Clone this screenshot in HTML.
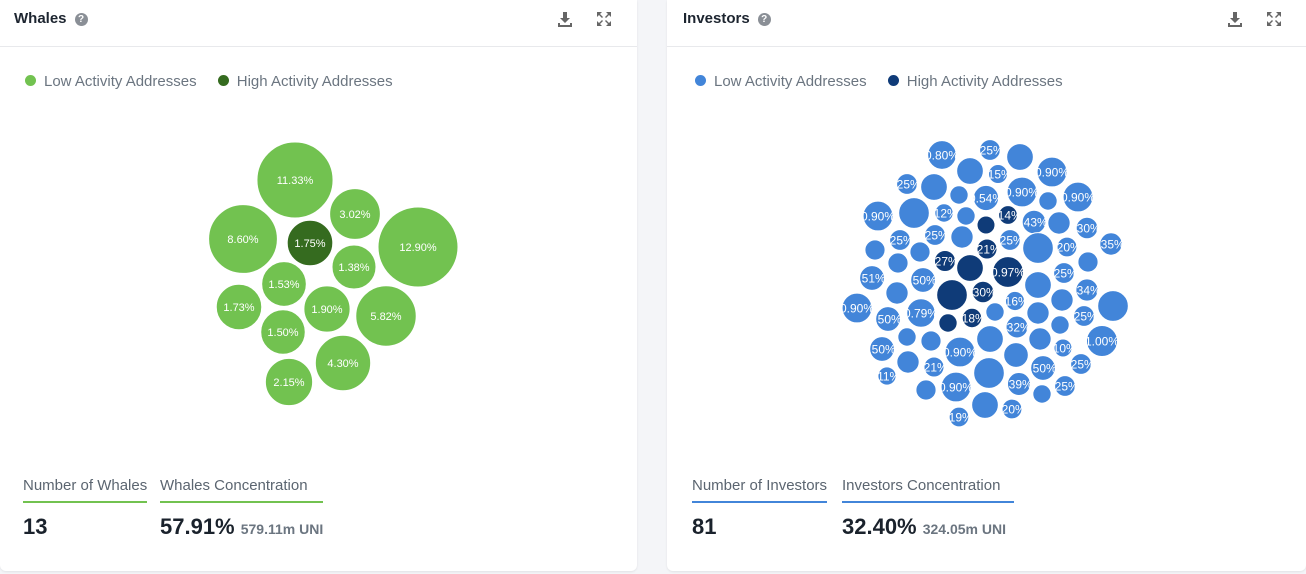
<!DOCTYPE html>
<html><head><meta charset="utf-8">
<style>
body{margin:0;width:1306px;height:574px;background:#f4f5f8;font-family:"Liberation Sans",sans-serif;overflow:hidden;position:relative}
.panel{position:absolute;top:0;height:571px;background:#fff;border-radius:0 0 6px 6px;box-shadow:0 1px 2px rgba(0,0,0,.08)}
.hdr{position:absolute;left:0;right:0;top:0;height:46px;border-bottom:1px solid #e8e9ec}
.title{position:absolute;left:14px;top:10px;font-size:15px;font-weight:bold;color:#1d2530}
.q{display:inline-block;width:13px;height:13px;border-radius:50%;background:#8a8f96;color:#fff;font-size:10px;text-align:center;line-height:13px;margin-left:8px;vertical-align:1px}
.ic{position:absolute;top:11px;width:16px;height:16px}
.legend{position:absolute;left:25px;top:73px;font-size:15px;color:#6b7580}
.legend span.d{display:inline-block;width:11px;height:11px;border-radius:50%;margin-right:8px;vertical-align:0px}
.stat{position:absolute;top:477px}
.stat .l{font-size:15px;color:#5b6570;padding-bottom:7px;border-bottom:2px solid}
.stat .v{font-size:22px;color:#1a222c;margin-top:11px;font-weight:600}
.stat .v small{font-size:14px;color:#6b7580;font-weight:600}
svg{position:absolute;left:0;top:0}
</style></head><body>
<div class="panel" style="left:0;width:637px">
 <div class="hdr">
  <div class="title">Whales<span class="q">?</span></div>
  <svg class="ic" viewBox="0 0 16 16" style="left:557px"><path d="M6 1h4v6h3l-5 5-5-5h3z M1 12h2v2h10v-2h2v4H1z" fill="#666"/></svg>
  <svg class="ic" viewBox="0 0 16 16" style="left:596px"><path d="M1 1h5l-2 2 3 3-1 1-3-3-2 2z M15 1v5l-2-2-3 3-1-1 3-3-2-2z M1 15v-5l2 2 3-3 1 1-3 3 2 2z M15 15h-5l2-2-3-3 1-1 3 3 2-2z" fill="#666"/></svg>
 </div>
 <div class="legend">
  <span><span class="d" style="background:#72c250"></span>Low Activity Addresses</span>
  <span style="margin-left:17px"><span class="d" style="background:#356b1f"></span>High Activity Addresses</span>
 </div>
 <svg id="wsvg" width="637" height="460"></svg>
 <div class="stat" style="left:23px"><div class="l" style="border-color:#72c250">Number of Whales</div><div class="v">13</div></div>
 <div class="stat" style="left:160px"><div class="l" style="border-color:#72c250;padding-right:13px">Whales Concentration</div><div class="v">57.91% <small>579.11m UNI</small></div></div>
</div>
<div class="panel" style="left:667px;width:639px">
 <div class="hdr">
  <div class="title" style="left:16px">Investors<span class="q">?</span></div>
  <svg class="ic" viewBox="0 0 16 16" style="left:560px"><path d="M6 1h4v6h3l-5 5-5-5h3z M1 12h2v2h10v-2h2v4H1z" fill="#666"/></svg>
  <svg class="ic" viewBox="0 0 16 16" style="left:599px"><path d="M1 1h5l-2 2 3 3-1 1-3-3-2 2z M15 1v5l-2-2-3 3-1-1 3-3-2-2z M1 15v-5l2 2 3-3 1 1-3 3 2 2z M15 15h-5l2-2-3-3 1-1 3 3 2-2z" fill="#666"/></svg>
 </div>
 <div class="legend" style="left:28px">
  <span><span class="d" style="background:#4285d9"></span>Low Activity Addresses</span>
  <span style="margin-left:17px"><span class="d" style="background:#0f3b78"></span>High Activity Addresses</span>
 </div>
 <div class="stat" style="left:25px"><div class="l" style="border-color:#4285d9">Number of Investors</div><div class="v">81</div></div>
 <div class="stat" style="left:175px"><div class="l" style="border-color:#4285d9;padding-right:14px">Investors Concentration</div><div class="v">32.40% <small>324.05m UNI</small></div></div>
</div>
<svg id="isvg" width="1306" height="460"></svg>
<script>
// Whales data
const whaleValues=[11.33,3.02,8.60,1.75,12.90,1.38,1.53,1.73,1.90,5.82,1.50,4.30,2.15];
const whaleHigh=[0,0,0,1,0,0,0,0,0,0,0,0,0];
// layout (packing positions, not data)
const whaleLayoutX=[295,355,243,310,418,354,284,239,327,386,283,343,289];
const whaleLayoutY=[180,214,239,243,247,267,284,307,309,316,332,363,382];

// Investors data
const invValues=[0.80,0.25,0.65,0.65,0.15,0.90,0.25,0.65,0.12,0.54,0.90,0.12,0.90,0.90,0.97,0.12,0.12,0.10,0.14,0.43,0.35,0.30,0.25,0.25,0.35,0.21,0.25,0.35,0.22,0.22,0.97,0.20,0.22,0.22,0.27,0.65,0.97,0.25,0.51,0.50,
0.97,0.30,0.34,0.65,0.35,0.16,0.35,0.97,0.90,0.50,0.79,0.18,0.12,0.12,0.35,0.25,0.32,0.12,0.65,0.12,0.22,0.50,0.90,0.35,0.10,1.00,0.50,0.35,0.21,0.50,0.25,0.11,0.97,0.39,0.90,0.25,0.22,0.12,0.65,0.20,0.19];
const invHigh=[0,0,0,0,0,0,0,0,0,0,0,0,0,0,0,0,0,1,1,0,0,0,0,0,0,1,0,0,0,0,0,0,0,0,1,1,1,0,0,0,
1,1,0,0,0,0,0,0,0,0,0,1,1,0,0,0,0,0,0,0,0,0,0,0,0,0,0,0,0,0,0,0,0,0,0,0,0,0,0,0,0];
const invShowLabel=[1,1,0,0,1,1,1,0,0,1,1,0,1,1,0,1,0,0,1,1,0,1,1,1,0,1,1,1,0,0,0,1,0,0,1,0,1,1,1,1,
0,1,1,0,0,1,0,0,1,1,1,1,0,0,0,1,1,0,0,0,0,1,1,0,1,1,0,0,1,1,1,1,0,1,1,1,0,0,0,1,1];
const invLayoutX=[942,990,1020,970,998,1052,907,934,959,986,1022,1048,1078,878,914,944,966,986,1008,1034,1059,1087,900,935,962,987,1010,1111,875,920,1038,1067,1088,898,945,970,1008,1064,872,923,
952,983,1087,1038,897,1015,1062,1113,857,888,921,972,948,995,1038,1084,1017,1060,990,907,931,882,960,1040,1063,1102,1016,908,934,1043,1081,887,989,1019,956,1065,926,1042,985,1012,959];
const invLayoutY=[155,150,157,171,174,172,184,187,195,198,192,201,197,216,213,213,216,225,215,222,223,228,240,235,237,249,240,244,250,252,248,247,262,263,261,268,272,273,278,280,
295,292,290,285,293,301,300,306,308,319,313,318,323,312,313,316,327,325,339,337,341,349,352,339,348,341,355,362,367,368,364,376,373,384,387,386,390,394,405,409,417];

const NS='http://www.w3.org/2000/svg';
function rScale(v,vmin,vmax,rmin,rmax){const t=(v-vmin)/(vmax-vmin);return Math.sqrt(rmin*rmin+t*(rmax*rmax-rmin*rmin));}
function fmt(v,r,small){let s=v.toFixed(2)+'%';if(small&&r<12.5)s=s.replace(/^0/,'');return s;}
function draw(svg,vals,high,xs,ys,show,cl,ch,rmin,rmax,fs,fw,small,name){
 const vmin=Math.min(...vals),vmax=Math.max(...vals);
 vals.forEach((v,i)=>{
  const r=rScale(v,vmin,vmax,rmin,rmax);
  const c=document.createElementNS(NS,'circle');
  c.setAttribute('cx',xs[i]);c.setAttribute('cy',ys[i]);c.setAttribute('r',r);
  c.setAttribute('fill',high[i]?ch:cl);c.setAttribute('stroke','#fff');c.setAttribute('stroke-width','1');
  
  
  svg.appendChild(c);
  if(show[i]){
   const t=document.createElementNS(NS,'text');
   t.setAttribute('x',xs[i]);t.setAttribute('y',ys[i]+fs*0.36);t.setAttribute('text-anchor','middle');
   t.setAttribute('font-size',fs);t.setAttribute('fill','#fff');t.setAttribute('font-family','Liberation Sans, sans-serif');
   t.setAttribute('font-weight',fw);
   t.textContent=fmt(v,r,small);
   
   
   svg.appendChild(t);
  }
 });
}
draw(document.getElementById('wsvg'),whaleValues,whaleHigh,whaleLayoutX,whaleLayoutY,whaleValues.map(()=>1),'#72c250','#356b1f',22,40,11,'normal',false,'whale');
draw(document.getElementById('isvg'),invValues,invHigh,invLayoutX,invLayoutY,invShowLabel,'#4285d9','#0f3b78',9,15.5,12,'normal',true,'investor');
</script>
</body></html>
